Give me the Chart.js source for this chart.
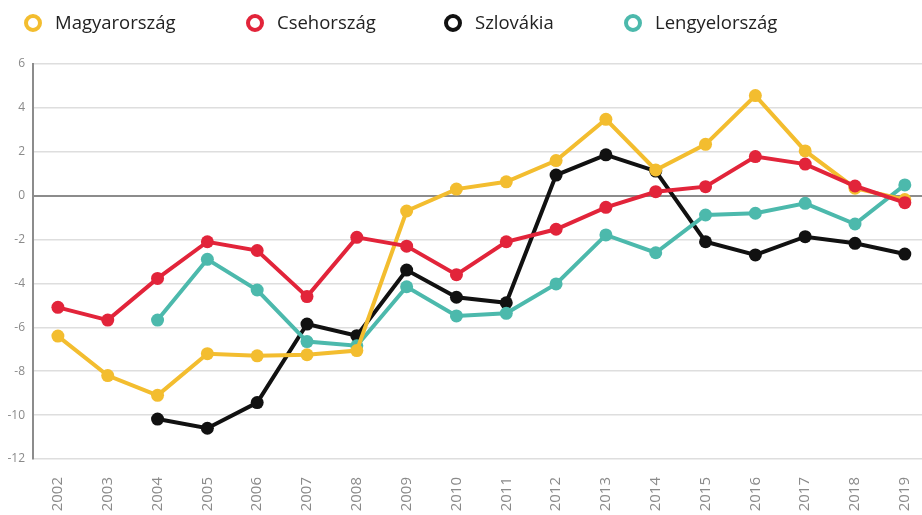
<!DOCTYPE html>
<html>
<head>
<meta charset="utf-8">
<script src="https://cdn.jsdelivr.net/npm/chart.js@4/dist/chart.umd.min.js"></script>
<style>
  html, body { margin: 0; padding: 0; background: #fff; overflow: hidden; }
  #wrap { width: 941px; height: 515px; }
</style>
</head>
<body>
<div id="wrap"><canvas id="c" width="941" height="515"></canvas></div>
<script>
const years = ['2002','2003','2004','2005','2006','2007','2008','2009','2010','2011','2012','2013','2014','2015','2016','2017','2018','2019'];
const seriesNames = ['Magyarország', 'Csehország', 'Szlovákia', 'Lengyelország'];
const magyarorszag = [-6.4, -8.2, -9.1, -7.2, -7.3, -7.25, -7.06, -0.7, 0.3, 0.63, 1.6, 3.48, 1.17, 2.34, 4.56, 2.04, 0.34, -0.18];
const csehorszag   = [-5.09, -5.67, -3.77, -2.1, -2.5, -4.6, -1.9, -2.3, -3.6, -2.1, -1.53, -0.53, 0.18, 0.41, 1.78, 1.44, 0.44, -0.32];
const szlovakia    = [null, null, -10.18, -10.6, -9.43, -5.85, -6.38, -3.39, -4.63, -4.88, 0.94, 1.86, 1.12, -2.1, -2.7, -1.87, -2.17, -2.66];
const lengyelorszag= [null, null, -5.67, -2.9, -4.3, -6.65, -6.84, -4.15, -5.48, -5.36, -4.02, -1.79, -2.6, -0.88, -0.8, -0.35, -1.29, 0.49];
const yTicks = [-12, -10, -8, -6, -4, -2, 0, 2, 4, 6];

const colors = ['#F3BD2F', '#E2243A', '#111111', '#4CB9AC'];
const seriesValues = [magyarorszag, csehorszag, szlovakia, lengyelorszag];
const drawOrder = [1, 0, 3, 2];

const FONT = '"Open Sans", "DejaVu Sans", sans-serif';

const ringLegend = {
  id: 'ringLegend',
  afterDraw(chart) {
    const ctx = chart.ctx;
    const centers = [33, 255, 453, 633];
    const y = 23;
    ctx.save();
    ctx.font = '18.5px ' + FONT;
    ctx.textBaseline = 'middle';
    ctx.textAlign = 'left';
    seriesNames.forEach((name, i) => {
      ctx.beginPath();
      ctx.arc(centers[i], y, 7, 0, Math.PI * 2);
      ctx.fillStyle = '#fff';
      ctx.fill();
      ctx.lineWidth = 4;
      ctx.strokeStyle = colors[i];
      ctx.stroke();
      ctx.fillStyle = '#222';
      ctx.fillText(name, centers[i] + 22, y + 1);
    });
    ctx.restore();
  }
};

new Chart(document.getElementById('c'), {
  type: 'line',
  data: {
    labels: years,
    datasets: seriesNames.map((name, i) => ({
      label: name,
      data: seriesValues[i],
      borderColor: colors[i],
      backgroundColor: colors[i],
      pointBackgroundColor: colors[i],
      pointBorderWidth: 0,
      pointRadius: 6.5,
      pointHoverRadius: 6.5,
      borderWidth: 4,
      tension: 0,
      fill: false,
      order: drawOrder[i],
      clip: false
    }))
  },
  options: {
    responsive: false,
    animation: false,
    layout: { padding: { top: 64, right: 0, left: 0, bottom: 0 } },
    plugins: {
      legend: { display: false },
      tooltip: { enabled: false }
    },
    scales: {
      x: {
        type: 'category',
        offset: true,
        grid: { display: false, drawTicks: false },
        border: { display: false },
        ticks: {
          minRotation: 90,
          maxRotation: 90,
          autoSkip: false,
          padding: 18,
          color: '#8a8a8a',
          font: { family: FONT, size: 15 }
        },
        afterFit(scale) { scale.height = 56; }
      },
      y: {
        min: -12,
        max: 6,
        afterBuildTicks(scale) { scale.ticks = yTicks.map(v => ({ value: v })); },
        grid: {
          drawTicks: false,
          color: ctx => ctx.tick && ctx.tick.value === 0 ? '#8c8c8c' : '#dedede',
          lineWidth: ctx => ctx.tick && ctx.tick.value === 0 ? 2 : 1.5
        },
        border: { display: true, color: '#8c8c8c', width: 2 },
        ticks: {
          padding: 8,
          color: '#8a8a8a',
          font: { family: FONT, size: 12 }
        },
        afterFit(scale) { scale.width = 33; }
      }
    }
  },
  plugins: [ringLegend]
});
</script>
</body>
</html>
